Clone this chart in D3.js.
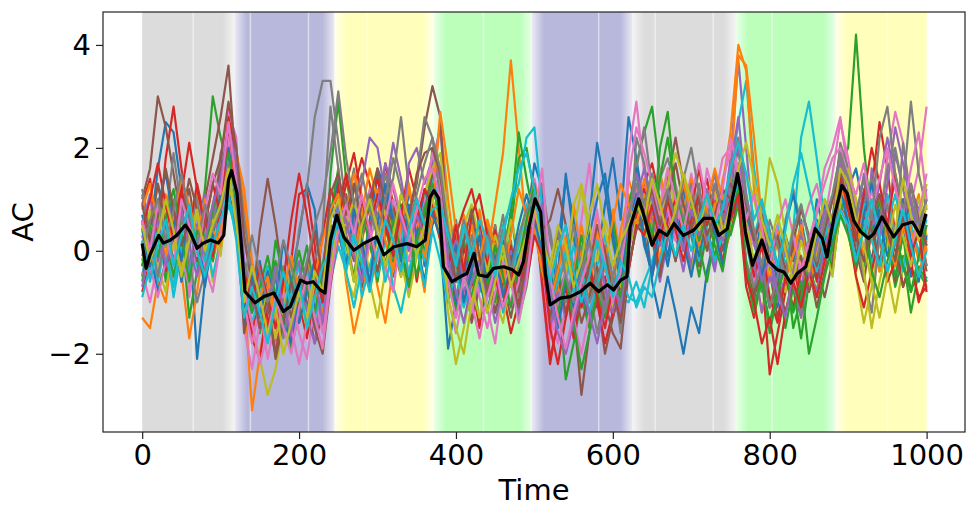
<!DOCTYPE html>
<html>
<head>
<meta charset="utf-8">
<script src="https://cdn.jsdelivr.net/npm/d3@7"></script>
<style>
  body { margin: 0; background: #fff; }
  text { font-family: "DejaVu Sans", sans-serif; }
</style>
</head>
<body>
<svg width="977" height="518"></svg>
<script>
// regimes shown as background bands (time units)
var bandStart = [0, 118, 245, 372, 497, 625, 757, 884];
var bandEnd   = [118, 245, 372, 497, 625, 757, 884, 1000];
var bandState = ["rest", "low", "mid", "high", "low", "rest", "high", "mid"];
// faint breaks inside the bands
var gapTimes = [65, 138, 212, 287, 435, 582, 654, 728, 803, 950];

var xTicks = [0, 200, 400, 600, 800, 1000];
var yTicks = [-2, 0, 2, 4];

// black mean curve
var meanT = [0,5,10,21,27,36,44,55,61,70,78,87,97,104,110,114,121,127,131,144,
  155,168,180,189,202,210,218,227,233,240,248,257,270,282,299,308,321,338,350,361,
  367,372,378,384,395,406,414,423,429,440,448,461,472,480,486,493,501,508,514,520,
  533,546,559,571,582,593,601,610,618,622,633,639,650,659,669,678,690,703,716,727,
  735,746,752,759,763,769,778,790,799,810,818,827,835,846,858,867,873,882,892,899,
  907,916,926,933,943,958,969,982,992,999];
var meanV = [0.14,-0.34,-0.08,0.30,0.15,0.21,0.30,0.50,0.37,0.05,0.15,0.21,0.15,0.30,1.37,1.56,1.11,0.01,-0.79,-1.01,
  -0.89,-0.82,-1.18,-1.08,-0.57,-0.63,-0.60,-0.76,-0.82,0.21,0.69,0.27,0.01,0.14,0.27,-0.08,0.08,0.14,0.08,0.21,
  1.04,1.17,1.02,-0.31,-0.60,-0.50,-0.44,-0.05,-0.47,-0.50,-0.34,-0.31,-0.37,-0.47,-0.21,0.46,1.01,0.75,-0.44,-1.05,
  -0.92,-0.89,-0.79,-0.63,-0.79,-0.66,-0.76,-0.57,-0.50,0.46,1.01,0.72,0.11,0.40,0.30,0.53,0.30,0.40,0.63,0.63,
  0.30,0.43,0.98,1.50,1.17,0.37,-0.28,0.21,-0.21,-0.37,-0.41,-0.63,-0.44,-0.31,0.43,0.24,-0.12,0.66,1.27,1.11,
  0.59,0.37,0.24,0.34,0.66,0.27,0.50,0.56,0.30,0.72];

var run01 = [-0.5,0.3,1.6,2.5,2.3,1.2,0.4,-2.1,-0.6,0.2,0.5, 1.8,1.2,
  -0.6,-1.2,-0.4,-1.5,-0.8,-1.6,-0.5,0.3,1.3,0.8,-0.9, 0.6,1.4,
  0.5,1.0,-0.4,0.2,1.5,0.8,-0.5,0.3,1.1,0.9,-0.3, 1.8,0.2,
  -1.9,-1.0,-0.2,-0.8,0.4,-0.5,-1.2,-0.3,0.8,-0.4, 0.5,1.7,1.2,
  -1.2,-0.5,1.5,0.3,-0.8,-1.4,-0.2,0.9,1.8,0.6, 2.6,1.8,0.8,
  -0.6,-1.3,-0.5,-1.2,-2.0,-1.1,-1.6,-0.4,0.3,1.0, 1.1,1.6,
  0.2,-0.6,0.4,-0.3,-1.1,0.1,-0.5,0.6,-0.2,1.0,0.3,-0.4, 1.4,0.9,
  0.2,1.1,0.6,-0.3,0.9,1.4,0.4,-0.5,0.8,1.2];
var run02 = [-1.3,-1.5,-0.6,-1.0,0.2,-0.4,-1.7,-0.8,0.3,-0.2,0.6, 1.5,2.1,
  -0.8,-3.1,-2.0,-1.2,-0.5,-1.3,-1.8,-0.9,-0.2,-1.0,-0.4, 0.3,0.8,
  -0.6,-1.6,-0.9,0.2,-0.7,-1.4,-0.3,0.6,-0.5,0.1,-0.8, 1.1,2.5,
  1.0,-0.2,0.6,-0.5,0.8,-0.1,0.9,1.9,3.7,2.0, 0.4,0.9,0.2,
  -0.6,0.4,-0.3,0.9,-0.1,-1.0,0.5,-0.4,0.8,-0.2, 1.4,0.9,0.5,
  0.8,-0.2,0.9,0.4,1.3,0.6,-0.3,0.7,1.2,0.2, 0.8,1.6,
  0.9,-0.4,-1.2,-0.3,-0.8,0.2,-0.6,-1.3,-0.2,0.5,-0.5,0.3, 1.5,0.8,
  0.3,-0.3,0.9,0.2,1.0,0.4,-0.4,0.6,1.1,0.0];
var run03 = [0.6,-0.2,0.8,-0.6,0.3,1.0,-0.4,0.2,1.2,3.0,2.2, 1.6,0.6,
  -1.3,-0.4,-1.6,-0.8,-0.2,-1.0,-1.9,-1.2,-0.3,-0.9,-1.5, 1.5,2.9,
  1.4,0.6,-0.3,0.5,-0.6,0.3,1.0,0.1,-0.8,0.4,0.0, 0.9,0.4,
  -0.7,0.2,-0.9,-0.3,-1.4,-0.6,0.3,-0.8,0.4,1.8, 2.0,1.1,0.5,
  -1.4,-0.7,-2.5,-1.8,-0.9,-1.5,-0.4,-1.2,-0.6,-1.0, 0.6,1.7,2.3,
  2.8,1.5,0.6,-0.2,0.9,0.3,-0.5,0.4,-0.1,0.7, 1.2,2.0,
  0.6,-0.8,-0.2,-1.1,-0.4,-1.5,-0.7,-1.7,-0.6,-0.2,0.4,0.0, 1.7,2.0,
  4.2,2.0,0.6,-0.4,0.2,-0.7,-0.1,-1.2,-0.4,-0.7];
var run04 = [0.9,1.4,0.2,1.8,2.8,1.6,0.5,-0.3,0.8,0.1,1.5, 2.8,1.7,
  -0.5,-1.7,-2.1,-1.0,-1.8,-0.7,-0.2,1.1,1.2,0.1,-1.4, -0.5,1.3,
  0.4,1.2,1.8,1.3,0.6,1.7,0.9,-0.2,0.5,-0.6,0.3, 1.3,0.7,
  -0.2,-1.2,0.1,-0.6,-1.5,-0.3,0.5,-0.8,-1.6,-1.0, 0.0,0.8,-0.7,
  -2.2,-1.3,-0.6,-1.7,-0.8,-0.2,-1.1,-0.5,-1.3,-0.7, 0.1,0.8,1.3,
  1.7,1.0,0.3,1.2,0.5,-0.4,0.8,1.4,0.6,-0.2, 0.4,1.0,
  -0.7,-1.3,-0.4,-2.4,-1.6,-0.8,-0.3,-1.0,0.2,-0.5,0.3,1.0, 1.9,0.5,
  -0.4,0.6,1.2,2.5,1.6,0.3,-0.7,-0.2,-1.0,-0.5];
var run05 = [0.2,-0.5,0.4,-0.2,0.9,-0.6,0.1,0.7,-0.3,0.5,1.9, 2.3,1.0,
  -0.9,-0.3,-1.4,-0.6,-1.2,-0.4,-1.7,-0.8,-0.3,-1.5,-0.9, 0.1,0.7,
  -0.3,0.6,1.3,2.2,2.0,1.1,2.1,1.4,0.5,0.9,0.2, 1.7,2.4,
  0.4,-0.9,-0.2,-1.3,-0.5,0.3,-0.6,-1.1,-0.4,-0.9, -0.3,0.5,0.2,
  -1.6,-0.9,-0.4,-1.2,-0.6,0.2,-0.5,-1.4,-0.8,-0.3, 0.4,1.2,0.9,
  0.3,-0.6,0.2,1.1,0.5,-0.3,0.7,0.2,-0.4,0.6, 1.8,3.7,
  2.0,0.3,-0.8,-0.2,-1.0,-0.5,0.2,-0.7,0.0,0.6,-0.3,0.4, 1.3,1.5,
  0.8,-0.2,1.6,0.9,0.3,1.9,1.2,0.5,-0.1,0.7];
var run06 = [1.0,1.6,3.0,2.4,1.5,0.6,1.2,0.3,1.0,1.8,2.6, 3.6,1.5,
  -0.3,-1.1,0.4,1.4,0.5,-0.6,-1.3,-0.5,-1.0,-1.8,-1.2, -0.2,0.5,
  1.1,0.2,-0.7,0.4,-0.2,0.9,0.1,-0.5,0.7,1.3,2.4, 3.2,2.6,
  0.1,-1.1,-0.4,-1.4,-0.7,0.5,0.0,-0.6,-1.3,-0.5, 0.6,0.9,0.1,
  -0.8,0.3,-0.5,-1.2,-2.8,-1.6,-0.9,-2.0,-1.3,-0.6, 0.5,0.9,0.3,
  -0.5,0.2,1.4,2.2,1.3,0.4,-0.3,0.5,1.0,0.0, 0.7,1.3,
  -0.2,-1.0,0.5,-0.4,-1.3,-0.6,0.1,-0.9,-0.3,-1.1,-0.4,0.2, 0.9,0.6,
  -0.3,0.5,-0.2,0.8,0.2,-0.6,0.4,1.0,0.3,-0.4];
var run07 = [-0.4,-1.0,-0.2,0.7,-0.6,0.4,-0.9,0.1,-0.5,0.3,1.3, 2.7,2.2,
  -1.5,-2.3,-1.4,-0.7,-1.9,-1.2,-0.6,-1.6,-2.1,-1.0,-1.4, 0.2,0.9,
  0.3,-0.5,0.6,1.2,0.4,-0.4,1.0,0.5,-0.8,-0.1,0.7, 1.5,0.6,
  -0.9,-1.6,-0.8,-1.2,-0.4,-1.1,-1.8,-0.6,-1.0,-0.3, 0.5,1.4,0.7,
  -1.2,-1.8,-1.1,-0.3,0.6,1.7,0.2,-0.9,-0.4,-1.2, 1.9,2.9,1.5,
  0.9,1.6,0.5,1.3,0.7,1.5,0.6,1.2,0.4,1.4, 1.9,1.3,
  0.5,-0.6,-0.2,0.4,-0.7,-0.3,0.3,-0.5,0.1,0.7,1.6,2.0, 2.6,1.5,
  1.0,0.3,1.2,0.5,1.8,2.7,2.1,0.9,1.6,2.8];
var run08 = [1.2,0.4,1.3,0.6,1.9,0.8,0.2,1.1,-0.2,0.7,1.8, 2.0,1.3,
  0.2,-0.6,-1.3,-0.5,-1.0,-0.3,-0.9,0.4,1.2,2.6,3.3, 3.3,2.1,
  0.8,1.6,0.4,1.1,0.2,0.9,1.4,2.6,1.2,0.3,0.9, 1.4,0.5,
  -0.6,0.3,-0.4,0.6,-0.8,-0.2,0.5,-0.5,0.2,-0.9, 0.3,0.8,1.3,
  0.2,-0.4,-1.0,-0.3,0.1,-0.7,-1.6,-0.8,-0.2,-1.1, 0.3,1.6,2.4,
  1.2,0.6,1.3,0.4,1.0,0.5,1.3,0.2,0.8,0.3, 1.1,1.7,
  0.8,0.1,0.9,0.4,-0.3,0.6,1.2,0.5,-0.2,0.3,1.0,0.6, 2.1,1.6,
  0.3,0.9,1.4,0.5,1.6,2.0,1.2,2.9,1.5,0.8];
var run09 = [0.1,0.8,-0.3,-0.8,0.2,-0.5,0.6,-0.2,0.4,-0.6,0.3, 2.2,1.2,
  -0.8,-1.5,-2.1,-2.8,-2.3,-1.4,-0.7,-1.2,-0.5,-1.3,-0.9, 0.4,0.5,
  -0.5,-0.9,0.1,-0.6,-1.3,-0.4,0.3,-0.2,-0.9,-0.1,0.4, 1.0,0.3,
  -1.2,-2.2,-1.5,-0.7,-1.3,-0.4,-0.9,-1.4,-0.5,-1.1, -0.4,0.6,0.2,
  -0.7,-1.3,-0.5,0.4,1.2,0.3,-0.6,-0.2,-1.1,-0.5, 0.2,0.7,0.4,
  0.1,0.9,1.6,0.7,0.2,-0.5,0.6,1.0,0.3,-0.3, 0.5,1.3,
  1.5,1.0,0.3,-0.5,0.2,-0.8,-0.3,0.4,-0.6,-0.1,0.6,0.2, 1.0,0.6,
  -0.5,-1.4,-0.7,0.2,-0.4,-1.2,-0.3,0.5,1.0,0.3];
var run10 = [-0.2,0.5,-0.6,0.2,-0.9,0.0,0.6,-0.3,0.4,-0.5,0.2, 0.9,0.4,
  -1.1,-0.6,-1.3,-0.5,-1.0,-1.6,-0.8,-0.3,-1.2,-0.7,-1.1, -0.6,0.1,
  -0.4,-1.1,-0.3,0.4,-0.5,0.2,-0.7,-1.2,-0.4,0.3,-0.2, 1.4,1.0,
  0.2,-0.5,0.4,-0.2,-0.8,0.1,-0.4,0.5,0.9,1.3, 2.2,2.4,0.8,
  -0.4,-1.1,-0.6,0.1,-0.5,-1.0,-0.3,0.3,-0.6,-0.9, -1.0,-0.6,-1.1,
  -0.3,0.5,-0.2,0.6,1.1,0.4,-0.2,0.5,0.9,0.2, 1.4,2.5,
  3.3,1.6,0.5,-0.3,0.2,-0.5,0.4,2.2,2.9,1.8,0.6,-0.2, 0.7,0.4,
  0.1,0.6,-0.3,0.4,1.1,0.3,-0.4,0.5,0.0,-0.6];
var run11 = [0.7,0.0,-0.8,-0.2,0.5,-0.6,0.9,0.2,-0.4,0.6,0.0, 1.2,0.4,
  -1.4,-0.8,-0.2,-1.1,-0.5,-1.3,-1.8,-0.9,-0.4,-1.1,-0.6, -0.2,0.4,
  0.9,0.2,-0.5,0.6,1.6,1.2,0.3,-0.4,0.8,0.2,-0.6, 0.5,0.8,
  -0.3,-1.1,-0.5,0.3,-0.6,-1.2,-0.4,0.2,-0.7,-0.1, 0.4,0.7,-0.2,
  -0.9,0.1,1.4,0.6,-0.4,0.3,1.0,1.5,0.4,-0.5, 0.8,1.6,0.2,
  -0.5,0.4,-0.3,0.6,1.2,0.5,-0.1,0.7,0.3,1.0, 0.6,1.0,
  0.2,-0.3,0.7,0.1,-0.6,0.3,-0.2,0.5,-0.4,0.2,0.9,0.4, 0.8,1.2,
  1.6,0.8,0.2,1.0,0.4,-0.3,0.6,1.3,0.5,0.1];
var run12 = [0.3,-0.4,0.5,1.1,0.3,-0.3,0.6,1.2,0.4,-0.2,0.5, 1.0,1.9,
  0.9,-0.5,-1.2,-0.6,-1.4,-0.8,-0.2,-1.0,-1.6,-0.7,-1.2, -0.4,0.2,
  0.7,1.5,1.0,0.3,1.2,0.5,-0.3,0.6,1.3,0.4,-0.1, 0.6,1.3,
  0.5,-0.4,0.7,0.1,-0.5,0.6,-0.2,0.4,-0.3,0.2, 0.8,1.3,0.4,
  -0.2,-0.9,0.2,-0.5,0.5,-0.3,0.7,0.0,-0.6,0.4, 1.1,0.6,1.4,
  0.7,1.5,0.9,0.2,0.8,1.4,0.6,0.1,0.9,1.3, 2.3,4.0,
  3.5,1.2,0.1,-0.6,0.3,-0.4,0.5,-0.2,-0.8,0.1,0.7,0.2, 1.8,0.7,
  0.1,0.8,0.3,-0.4,0.6,0.2,0.9,0.4,-0.2,0.5];
var run13 = [-0.6,0.2,1.0,0.3,-0.5,0.4,-1.3,-0.4,0.3,-0.2,0.8, 1.3,0.8,
  -0.3,-1.0,-0.4,-1.2,0.2,-0.5,-1.1,-0.6,0.1,-0.8,-0.3, 0.7,1.6,
  0.2,-0.6,0.8,0.1,-0.4,0.5,-0.2,0.9,0.3,-0.5,0.4, 2.0,1.2,
  0.3,-0.6,0.2,-0.4,0.5,-0.3,-1.0,0.0,0.7,2.3, 1.4,0.6,-0.5,
  -1.0,-0.3,-1.3,-0.6,0.3,-0.5,-1.0,-0.2,0.6,-0.3, 0.9,1.5,0.6,
  0.2,2.0,2.7,1.2,0.4,0.9,0.1,-0.6,0.3,0.8, 0.3,0.9,
  -0.4,-1.2,-0.6,-1.4,-0.7,-0.2,-1.5,-0.9,-0.3,-0.8,0.2,-0.4, 0.8,1.1,
  0.4,-0.3,0.5,1.0,0.2,-0.5,0.3,-0.8,-0.3,-0.6];
var run14 = [-0.8,-0.2,0.6,-0.4,0.5,1.2,0.4,1.3,0.6,-0.1,0.9, 2.4,1.6,
  -0.9,-1.6,-0.8,-1.3,-2.0,-1.1,-0.4,-1.0,-1.7,-0.8,0.3, 1.2,0.8,
  1.5,0.8,0.2,0.9,1.4,0.6,0.0,0.7,1.6,1.0,0.3, 0.8,0.2,
  -0.4,0.3,0.8,1.2,0.5,-0.3,0.4,-0.5,0.1,-0.7, -0.2,0.5,-0.4,
  -2.1,-1.4,-0.7,-1.5,-0.9,-0.3,-1.0,-1.8,-1.2,-0.6, 0.2,0.7,1.2,
  0.4,-0.4,0.6,1.0,0.2,0.8,1.6,0.7,1.1,0.5, 1.0,1.4,
  0.3,-0.5,0.1,-0.9,-1.4,-0.5,-1.1,-0.4,0.2,-0.6,-0.1,0.5, 1.4,0.4,
  -0.5,-1.1,-0.4,0.3,-0.6,-0.2,1.0,-0.3,-0.9,-0.7];
var run15 = [0.5,1.1,-0.2,0.4,1.0,0.2,-0.4,0.5,1.1,0.3,0.6, 1.5,1.8,
  -0.6,-1.2,-0.5,-0.9,-0.3,-1.1,-0.6,-0.2,-1.3,-1.8,-0.7, 0.5,0.3,
  -0.2,0.5,0.0,-0.7,0.4,-0.3,0.6,0.2,1.7,2.0,1.3, 1.8,1.4,
  -0.5,0.2,-0.8,-0.3,0.4,-0.6,-1.4,-0.7,0.0,-0.5, 0.6,1.1,0.0,
  -1.5,-0.8,-1.3,-0.4,-1.0,-0.5,0.2,-0.7,-1.2,-0.4, 0.6,1.5,1.0,
  0.6,0.1,0.8,0.3,-0.4,0.5,1.0,0.2,-0.3,0.7, 1.3,2.1,
  0.4,-0.2,-1.2,-0.5,-0.9,0.0,-0.6,-1.3,-0.4,-0.8,0.1,0.5, 1.6,1.0,
  0.4,1.2,0.5,1.3,2.2,1.4,0.6,1.2,0.8,0.2];
var run16 = [-0.3,0.4,1.3,0.5,-0.2,0.6,1.4,0.8,0.0,0.9,1.6, 2.1,0.9,
  -1.6,-0.8,-1.5,-1.0,-2.0,-1.3,-0.5,-1.2,-0.7,-1.5,-2.0, -0.7,0.4,
  0.3,-0.2,0.9,0.4,-0.4,0.3,0.8,0.1,-0.6,0.2,0.7, 1.5,1.1,
  -0.8,-0.2,-1.0,-0.4,0.2,-0.5,-1.2,-0.6,-0.1,-0.8, 0.3,0.8,-0.3,
  -1.3,-0.5,-1.2,-0.6,-1.4,-0.9,-0.3,-1.0,-1.6,-1.9, -0.4,0.5,0.8,
  0.2,-0.5,0.4,-0.2,0.5,1.2,0.6,0.0,0.6,1.1, 1.3,1.0,
  -0.3,-0.9,-0.4,-1.1,-0.6,-1.2,-0.5,-0.1,-0.8,-0.3,-0.9,-0.2, 1.1,0.8,
  0.0,-0.6,0.4,-0.2,0.5,0.0,-0.7,-0.2,0.6,-0.3];
var run17 = [0.3,-0.3,-0.9,-0.2,0.6,-0.1,-0.7,0.4,-0.3,-0.8,0.2, 2.2,1.4,
  -1.0,-1.8,-1.1,-2.1,-1.3,-0.8,-1.5,-2.2,-1.4,-0.9,-1.6, -0.3,0.6,
  0.8,0.1,-0.6,0.2,0.7,-0.3,-0.8,0.4,-0.2,0.6,1.0, 1.9,1.2,
  -0.4,-1.3,-0.6,-0.1,-0.9,-1.5,-0.8,-0.2,-1.1,-0.6, 0.9,1.2,-0.2,
  -1.7,-1.1,-0.4,-1.3,-2.0,-1.2,-0.6,-1.4,-0.9,-0.4, 0.8,1.2,0.9,
  0.4,1.3,0.8,0.2,1.5,0.9,0.3,1.6,1.0,1.8, 2.0,1.5,
  0.6,0.1,0.8,0.2,-0.4,0.5,1.1,0.4,0.9,1.3,0.6,1.5, 2.5,1.8,
  0.9,0.4,1.0,0.3,0.8,1.3,0.5,0.0,0.7,1.5];
var run18 = [1.1,0.3,-0.5,0.4,-0.3,0.7,-0.2,-1.0,-0.4,0.5,1.2, 1.7,2.0,
  0.6,-0.4,-1.0,-0.3,-1.1,-1.7,-0.9,-1.4,-0.6,-0.2,0.4, 2.8,1.6,
  0.3,0.9,0.2,1.1,0.6,1.5,0.7,0.0,0.6,1.4,2.6, 2.2,1.0,
  -0.1,0.6,-0.3,0.3,-0.5,0.4,-0.1,0.7,-0.4,-1.3, -0.7,0.4,0.9,
  0.4,-0.6,-0.2,0.5,-0.4,-1.0,-0.6,0.1,-0.5,-1.6, -0.2,2.2,1.7,
  0.7,1.4,1.8,1.2,0.6,1.3,0.5,0.9,1.5,0.6, 0.9,1.1,
  -0.2,-0.7,-0.3,-1.1,-0.5,0.3,-0.6,-1.2,-0.4,-0.9,-0.2,0.4, 1.8,1.3,
  0.2,-0.5,-1.2,0.3,0.9,0.1,2.1,1.0,0.4,-0.3];
var run19 = [-0.2,0.5,0.2,0.9,0.1,-0.4,0.3,0.8,0.1,0.6,-0.1, 1.3,0.7,
  -1.2,-0.6,-1.4,-0.8,-1.7,-1.1,-0.4,-0.9,-1.5,-0.6,-1.0, -0.3,0.5,
  0.5,1.0,0.3,-0.4,0.2,0.8,0.4,-0.5,0.1,0.7,1.1, 1.6,1.9,
  0.6,-0.3,0.5,0.9,0.2,-0.4,0.3,-0.2,0.6,0.0, 0.8,0.5,0.2,
  -0.5,0.2,-0.4,0.9,1.3,0.5,-0.2,0.6,0.1,-0.7, 0.0,0.6,0.3,
  1.0,0.4,1.3,1.9,1.4,0.8,0.2,0.7,1.2,0.4, 0.8,1.2,
  0.5,-0.2,0.4,1.8,1.3,0.3,-0.4,0.2,-0.3,0.5,0.1,-0.5, 0.9,1.6,
  1.0,-0.4,-1.5,-0.6,0.1,0.9,0.3,-0.3,0.6,1.3];
var run20 = [-0.9,-0.3,0.4,-0.1,-0.7,0.2,-0.5,0.3,-0.2,0.4,0.9, 1.0,0.6,
  -0.7,-1.4,-0.9,-0.3,-0.8,-1.2,-0.5,-1.0,-0.4,-1.3,-0.8, 0.2,0.9,
  -0.2,0.4,-0.9,-0.3,0.3,-0.6,0.0,0.5,-0.5,0.1,-0.7, 0.4,-0.2,
  -1.0,-0.4,-1.1,-0.6,-0.2,-0.8,-0.3,-1.2,-0.5,0.1, 0.9,0.5,-0.3,
  -1.1,-0.6,0.0,-0.8,-0.3,-1.2,-0.7,-0.1,-0.9,-0.5, -0.9,-1.0,-0.6,
  -0.2,0.3,-0.1,0.6,0.0,0.5,1.1,0.4,-0.2,0.3, 0.7,1.3,
  1.1,0.3,0.8,0.0,0.5,-0.3,0.4,0.9,0.2,-0.4,0.3,0.7, 1.2,0.6,
  0.3,0.9,0.2,-0.3,0.5,1.1,0.4,0.8,0.2,0.6];
var run21 = [0.4,-0.3,0.9,1.5,0.6,-0.2,0.8,0.1,-0.7,0.3,1.1, 2.0,0.9,
  -1.1,-0.5,-1.3,-0.4,-1.0,0.2,-0.6,-1.4,-0.8,-0.2,-1.0, 0.9,0.4,
  -0.3,0.8,0.2,-0.6,0.5,1.3,0.6,-0.2,0.9,0.3,1.2, 0.7,0.3,
  -0.6,0.1,-1.0,-0.4,0.3,-0.7,-0.1,-0.9,-0.3,0.5, 1.1,0.6,0.0,
  -0.8,-1.5,-0.6,-1.1,-0.2,0.6,2.1,1.2,0.2,-0.6, 0.4,1.1,0.1,
  -0.4,0.5,-0.1,0.7,0.2,-0.5,0.3,0.9,0.4,-0.3, 0.9,1.4,
  0.7,0.2,-0.5,0.3,-0.3,0.5,1.1,0.4,-0.2,0.6,-0.1,0.2, 1.3,0.5,
  -0.2,0.7,1.3,0.6,-0.1,0.4,1.0,0.2,-0.6,0.3];
var run22 = [0.8,1.3,0.5,-0.1,0.7,1.4,0.9,0.3,1.0,0.4,0.1, 1.2,1.9,
  1.2,-0.2,-0.9,-0.5,-1.2,-0.7,-0.1,-0.8,-1.3,-0.5,0.2, 0.8,1.1,
  0.6,-0.1,0.7,1.6,1.0,0.2,-0.4,0.5,1.2,0.6,0.2, 0.9,2.7,
  1.6,0.4,-0.3,0.5,-0.2,0.6,0.1,-0.6,0.3,1.2, 0.7,0.4,-0.4,
  -1.0,-0.4,0.3,-0.5,-1.1,-0.3,0.4,-0.2,0.6,1.3, 0.9,0.5,1.1,
  0.4,1.0,0.3,0.8,1.3,0.7,0.1,0.9,1.6,1.0, 1.4,3.8,
  3.6,2.2,0.6,-0.2,0.4,-0.5,-0.1,0.5,-0.4,-0.9,-0.2,0.4, 1.2,0.9,
  0.5,-0.1,0.6,1.1,0.3,-0.3,0.5,0.0,-0.5,0.2];
var run23 = [-0.3,0.5,-0.1,0.6,1.2,0.3,-0.6,0.4,0.0,0.8,1.4, 1.9,1.0,
  -0.5,-1.2,-0.7,-0.1,-0.9,-1.4,-0.6,0.0,-0.7,-1.2,-0.4, 0.3,0.7,
  0.1,-0.5,0.4,0.9,0.3,-0.3,0.6,0.0,-0.7,0.2,0.8, 1.3,0.6,
  -0.5,-1.2,-0.5,-0.9,-0.2,-0.7,0.1,-0.5,-1.1,-0.2, 0.6,1.3,0.3,
  -0.6,-1.2,-0.5,-1.4,-2.3,-1.6,-0.8,-1.3,-0.5,-0.9, 0.3,0.8,1.0,
  0.3,1.4,2.2,1.1,0.5,1.0,0.2,0.7,0.1,-0.4, 0.6,1.2,
  -0.3,-1.1,-0.5,-1.6,-0.8,-0.3,-1.2,-0.6,-2.0,-1.3,-0.5,0.1, 0.7,0.3,
  -0.3,0.5,-0.4,-0.9,-0.2,0.4,-0.3,-0.8,-0.1,0.5];
var run24 = [0.4,1.0,1.7,0.9,0.2,1.1,2.1,1.2,0.5,1.3,0.7, 2.6,1.1,
  -0.4,-1.0,-0.3,-0.9,-1.5,-0.6,0.6,1.5,0.7,-0.3,-1.0, 0.1,0.6,
  1.3,1.9,1.0,0.4,1.1,0.5,-0.1,0.8,0.2,0.6,1.2, 0.9,0.5,
  -0.3,0.5,-0.4,0.7,1.1,0.3,-0.5,-1.1,-0.3,-1.2, -0.6,0.3,-0.1,
  -1.5,-2.2,-1.3,-0.5,-1.1,-0.4,-0.9,-1.5,-0.7,-1.3, -0.4,0.5,0.3,
  0.9,0.2,1.0,0.4,-0.2,0.6,1.1,0.5,1.3,0.8, 0.6,1.1,
  -0.5,-1.0,-1.8,-1.3,-2.2,-1.2,-0.6,-1.1,-0.4,-0.9,-0.2,0.6, 1.5,0.8,
  0.2,1.1,2.0,1.3,0.5,1.5,0.7,-0.1,0.4,-0.8];
var run25 = [-0.7,0.1,0.6,-0.3,0.3,0.8,0.1,-0.5,0.2,0.9,1.4, 2.4,1.7,
  -0.2,-0.8,-1.5,-1.0,-0.4,-1.1,-1.6,-0.7,-1.2,-0.5,-1.4, -0.1,0.9,
  0.6,-0.1,-0.6,0.4,0.9,1.7,1.2,0.6,0.0,0.7,0.3, 1.2,0.9,
  -0.2,-0.8,-1.4,-0.6,-0.2,-0.9,-0.5,0.1,-0.6,-1.2, -0.4,0.6,0.9,
  -0.8,-1.6,-2.0,-1.4,-0.7,-1.2,-1.8,-1.0,-0.5,-1.2, 0.0,1.0,1.6,
  1.0,0.4,1.1,0.6,0.0,0.8,0.3,1.2,0.5,0.2, 1.6,2.6,
  1.1,0.2,-0.6,-0.1,-0.8,-1.3,-0.4,0.3,-0.5,0.1,0.8,0.3, 1.7,1.2,
  0.6,1.5,0.8,0.2,1.3,2.4,1.7,0.9,0.3,1.0];
var run26 = [0.9,0.2,0.7,1.6,0.8,0.1,0.6,-0.2,0.5,1.3,1.8, 2.9,2.0,
  0.3,-0.7,-1.5,-0.9,-2.1,-1.4,-0.6,-1.1,-0.3,0.4,-0.5, 1.1,1.5,
  0.7,1.3,0.5,1.0,1.6,0.9,0.2,1.1,0.6,1.5,1.9, 2.0,1.5,
  0.3,-0.6,0.2,0.8,-0.1,-0.8,-0.3,0.4,-0.5,-1.1, -0.2,0.6,0.4,
  0.6,1.2,0.5,-0.4,-1.0,-0.3,0.5,0.0,-0.8,-1.4, -0.3,0.4,0.7,
  1.2,0.5,1.0,1.7,0.9,0.4,1.0,0.3,0.7,1.2, 1.0,1.5,
  0.9,0.2,0.7,-0.2,0.3,-0.4,0.2,0.8,0.3,-0.3,0.4,1.0, 1.5,1.0,
  0.3,-0.2,0.6,1.1,0.4,-0.2,0.7,1.3,0.6,0.1];
var run27 = [0.6,0.0,0.9,0.3,-0.3,1.0,0.5,-0.1,0.8,1.5,1.1, 2.5,1.3,
  -0.8,-1.4,-2.2,-1.6,-0.9,-1.5,-2.0,-1.1,-0.5,-1.3,-1.9, -0.6,0.4,
  0.9,0.3,1.1,0.4,-0.2,0.6,1.3,0.7,0.2,0.8,1.4, 1.6,1.0,
  -0.6,-1.3,-0.5,-1.0,-1.7,-0.9,-0.3,-1.1,-0.6,-1.4, -0.6,0.7,1.6,
  -0.5,-1.3,-1.9,-1.2,-0.6,-0.1,0.8,-0.3,-1.0,-0.4, 1.4,2.4,1.9,
  1.3,0.7,1.6,1.0,0.4,1.1,1.7,0.9,0.5,1.2, 2.2,1.6,
  0.6,1.1,0.4,-0.3,0.5,1.0,0.3,-0.4,0.2,0.8,1.3,1.8, 2.0,1.4,
  1.1,1.7,0.8,1.4,2.0,1.2,0.7,1.6,2.3,1.0];
var run28 = [-0.1,0.6,1.0,0.2,0.8,1.5,0.7,0.1,0.9,0.4,0.8, 1.4,0.8,
  -0.6,0.3,-0.4,-1.0,-0.5,0.2,-0.3,-0.9,-0.2,0.5,1.0, 1.9,3.1,
  1.8,0.9,1.5,0.8,0.3,1.0,1.8,1.2,0.5,1.1,1.7, 2.2,1.6,
  0.4,-0.2,0.6,0.0,-0.6,0.3,-0.3,0.4,-0.4,0.3, 0.8,1.0,0.5,
  -0.3,0.4,-0.5,-1.0,-0.4,0.2,-0.6,-1.2,-0.5,0.0, 0.7,1.3,0.9,
  1.5,0.8,1.2,0.6,1.4,2.0,1.1,0.6,1.3,0.8, 1.5,2.2,
  1.0,0.4,-0.3,0.6,0.1,-0.5,0.4,0.9,0.2,-0.2,0.6,1.1, 1.9,1.4,
  0.7,1.4,0.6,2.2,2.8,1.5,0.8,1.3,0.5,1.0];
var run29 = [0.5,-0.2,0.3,1.0,0.4,-0.5,0.2,0.7,0.0,0.5,0.9, 1.6,0.5,
  -1.0,-0.3,-0.9,-1.6,-1.1,-2.0,-1.4,-0.8,-1.3,-0.4,-0.8, 0.6,1.0,
  0.2,-0.6,0.5,1.0,0.4,-0.3,0.3,1.1,0.6,-0.1,0.5, 1.0,0.5,
  -0.9,-1.5,-2.0,-1.0,-0.4,-1.2,-0.6,0.1,-0.7,-0.2, 0.3,0.8,0.2,
  -0.3,0.5,0.1,-0.7,-0.2,0.7,1.3,0.4,-0.3,0.2, 0.5,0.9,0.6,
  1.4,0.9,0.3,0.8,1.5,1.0,0.4,1.1,0.6,0.3, 0.9,1.6,
  2.1,1.4,0.6,0.1,0.7,0.0,-0.6,0.2,-0.4,0.4,1.0,0.5, 1.6,1.3,
  0.6,0.1,-0.6,-1.3,-0.5,0.4,1.4,0.7,0.2,0.9];
var run30 = [0.2,-0.6,0.1,0.6,-0.3,0.3,0.9,0.0,-0.5,0.1,0.6, 1.1,0.2,
  -1.3,-0.7,-1.2,-1.8,-1.0,-0.4,-1.1,-0.6,-1.5,-0.9,-0.3, 0.0,0.6,
  -0.4,0.3,-0.2,-0.8,0.0,0.6,0.2,-0.4,0.4,1.0,0.5, 0.8,0.9,
  0.3,-0.3,0.5,-0.1,0.6,0.2,-0.5,0.3,1.0,1.6, 1.9,1.2,0.2,
  -0.6,0.0,0.5,-0.4,-1.0,-0.5,0.2,-0.3,-0.9,-0.2, -0.5,-1.1,-0.7,
  -0.9,-0.2,0.4,-0.1,0.5,0.0,0.6,1.1,0.5,0.8, 1.6,2.1,
  1.5,0.6,1.0,0.3,-0.3,0.4,1.3,1.9,1.2,0.5,-0.1,0.3, 0.8,0.5,
  -0.2,0.4,1.0,0.3,-0.4,0.2,0.8,0.1,-0.5,0.0];

var runs = [run01, run02, run03, run04, run05, run06, run07, run08, run09, run10,
            run11, run12, run13, run14, run15, run16, run17, run18, run19, run20,
            run21, run22, run23, run24, run25, run26, run27, run28, run29, run30];
var sampleStep = 10;

// ---- drawing ----
var svg = d3.select("svg");
var plotL = 103, plotR = 965, plotT = 12, plotB = 432;

var x = d3.scaleLinear().domain([-49.95, 1048.95]).range([plotL, plotR]);
var y = d3.scaleLinear().domain([-3.52, 4.64]).range([plotB, plotT]);

var bandColour = d3.scaleOrdinal()
  .domain(["rest", "low", "mid", "high"])
  .range(["#dcdcdc", "#b8b8dc", "#ffffbb", "#bbffbb"]);
var runColour = d3.scaleOrdinal(d3.schemeCategory10);

var defs = svg.append("defs");
defs.append("clipPath").attr("id", "plot-clip")
  .append("rect")
  .attr("x", plotL).attr("y", plotT)
  .attr("width", plotR - plotL).attr("height", plotB - plotT);

// bands with soft edges (fade toward white where two regimes meet)
var fadePx = 12, edgeOpacity = 0.3;
bandStart.forEach(function(s, i) {
  var w = x(bandEnd[i]) - x(s);
  var f = fadePx / w;
  var c = bandColour(bandState[i]);
  var g = defs.append("linearGradient").attr("id", "band-" + i)
    .attr("x1", "0").attr("x2", "1").attr("y1", "0").attr("y2", "0");
  g.append("stop").attr("offset", 0).attr("stop-color", c).attr("stop-opacity", i == 0 ? 1 : edgeOpacity);
  g.append("stop").attr("offset", f).attr("stop-color", c).attr("stop-opacity", 1);
  g.append("stop").attr("offset", 1 - f).attr("stop-color", c).attr("stop-opacity", 1);
  g.append("stop").attr("offset", 1).attr("stop-color", c).attr("stop-opacity", i == bandStart.length - 1 ? 1 : edgeOpacity);
});

var plot = svg.append("g").attr("clip-path", "url(#plot-clip)");

plot.append("g").selectAll("rect")
  .data(bandStart)
  .enter().append("rect")
  .attr("x", d => x(d))
  .attr("width", (d, i) => x(bandEnd[i]) - x(d))
  .attr("y", plotT)
  .attr("height", plotB - plotT)
  .attr("fill", (d, i) => "url(#band-" + i + ")");

plot.append("g").selectAll("line")
  .data(gapTimes)
  .enter().append("line")
  .attr("x1", d => x(d)).attr("x2", d => x(d))
  .attr("y1", plotT).attr("y2", plotB)
  .attr("stroke", "#fff")
  .attr("stroke-opacity", 0.5)
  .attr("stroke-width", 1.5);

// individual runs
var runLine = d3.line()
  .x((d, i) => x(i * sampleStep))
  .y(d => y(d));

plot.append("g").selectAll("path")
  .data(runs)
  .enter().append("path")
  .attr("d", runLine)
  .attr("fill", "none")
  .attr("stroke", (d, i) => runColour(i % 10))
  .attr("stroke-width", 2.2)
  .attr("stroke-linejoin", "round");

// mean
var meanLine = d3.line()
  .x((d, i) => x(meanT[i]))
  .y(d => y(d));

plot.append("path")
  .datum(meanV)
  .attr("d", meanLine)
  .attr("fill", "none")
  .attr("stroke", "#000")
  .attr("stroke-width", 3.2)
  .attr("stroke-linejoin", "round");

// frame
svg.append("rect")
  .attr("x", plotL).attr("y", plotT)
  .attr("width", plotR - plotL).attr("height", plotB - plotT)
  .attr("fill", "none")
  .attr("stroke", "#222")
  .attr("stroke-width", 1.2);

// axes
var fontSize = 29;
var xAxis = svg.append("g")
  .attr("transform", "translate(0," + plotB + ")")
  .call(d3.axisBottom(x).tickValues(xTicks).tickSize(7).tickPadding(5)
    .tickFormat(d3.format("d")));
var yAxis = svg.append("g")
  .attr("transform", "translate(" + plotL + ",0)")
  .call(d3.axisLeft(y).tickValues(yTicks).tickSize(7).tickPadding(5)
    .tickFormat(d => d < 0 ? "\u2212" + Math.abs(d) : d));

[xAxis, yAxis].forEach(function(a) {
  a.select(".domain").remove();
  a.selectAll(".tick line").attr("stroke", "#222").attr("stroke-width", 1.2);
  a.selectAll(".tick text")
    .attr("fill", "#000")
    .style("font-family", "'DejaVu Sans', sans-serif")
    .style("font-size", fontSize + "px");
});

svg.append("text")
  .attr("x", (plotL + plotR) / 2)
  .attr("y", 500)
  .attr("text-anchor", "middle")
  .style("font-size", fontSize + "px")
  .text("Time");

svg.append("text")
  .attr("transform", "translate(33," + ((plotT + plotB) / 2) + ") rotate(-90)")
  .attr("text-anchor", "middle")
  .style("font-size", fontSize + "px")
  .text("AC");
</script>
</body>
</html>
